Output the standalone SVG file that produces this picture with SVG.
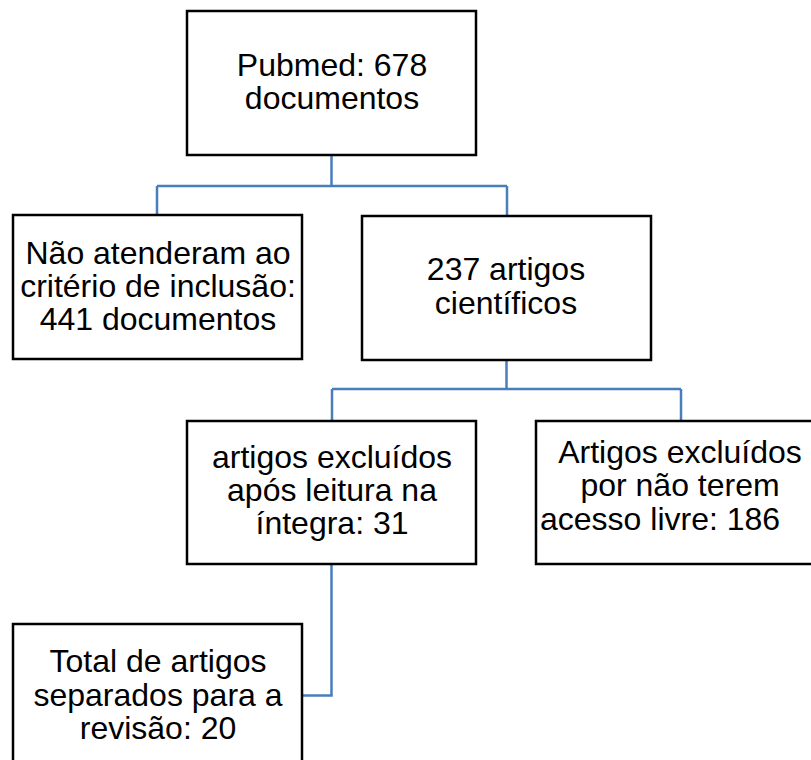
<svg xmlns="http://www.w3.org/2000/svg" width="811" height="760" viewBox="0 0 811 760">
<style>
.box{fill:#fff;stroke:#000;stroke-width:2.5}
.t{font-family:"Liberation Sans",Arial,sans-serif;font-size:32px;fill:#000;text-anchor:middle}
.c{fill:none;stroke:#4a7ebb;stroke-width:2.5}
</style>
<rect width="811" height="760" fill="#fff"/>
<g id="connectors">
<path class="c" d="M331.5,155 V186 M157,186 H507 M157,186 V215 M507,186 V216"/>
<path class="c" d="M506.5,360 V389 M332,389 H681 M332,389 V421 M681,389 V421"/>
<path class="c" d="M331.5,565 V695.5 H303"/>
</g>
<g id="n1">
<rect class="box" x="187" y="11" width="289" height="144"/>
<text class="t" x="332" y="76">Pubmed: 678</text>
<text class="t" x="332" y="109">documentos</text>
</g>
<g id="n2">
<rect class="box" x="13" y="215" width="289" height="144"/>
<text class="t" x="158" y="264">Não atenderam ao</text>
<text class="t" x="158" y="297">critério de inclusão:</text>
<text class="t" x="158" y="330">441 documentos</text>
</g>
<g id="n3">
<rect class="box" x="362" y="216" width="289" height="144"/>
<text class="t" x="506" y="280">237 artigos</text>
<text class="t" x="506" y="314">científicos</text>
</g>
<g id="n4">
<rect class="box" x="187" y="421" width="289" height="143"/>
<text class="t" x="332" y="468">artigos excluídos</text>
<text class="t" x="332" y="501">após leitura na</text>
<text class="t" x="332" y="534">íntegra: 31</text>
</g>
<g id="n5">
<rect class="box" x="536" y="421" width="300" height="143"/>
<text class="t" x="680" y="463">Artigos excluídos</text>
<text class="t" x="680" y="496">por não terem</text>
<text class="t" x="540" y="530" style="text-anchor:start">acesso livre: 186</text>
</g>
<g id="n6">
<rect class="box" x="13" y="624" width="289" height="150"/>
<text class="t" x="158" y="672">Total de artigos</text>
<text class="t" x="158" y="706">separados para a</text>
<text class="t" x="158" y="739">revisão: 20</text>
</g>
</svg>
